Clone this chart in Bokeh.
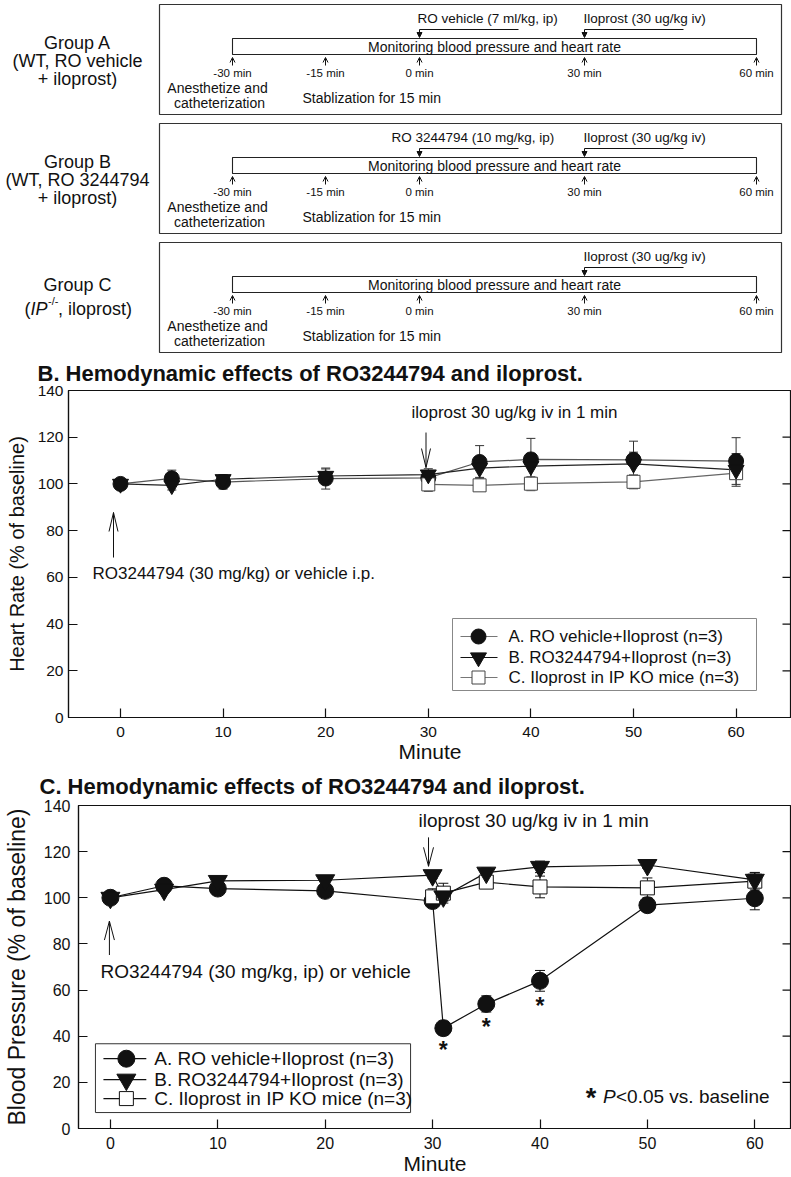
from bokeh.plotting import figure
from bokeh.models import (Range1d, FixedTicker, Arrow, OpenHead, NormalHead, ColumnDataSource)
from bokeh.core.properties import value
from bokeh.embed import file_html
from bokeh.resources import INLINE

FONT = "Liberation Sans"
INK = "#111111"

# ---------------- schematic content ----------------
group_names = ["Group A", "Group B", "Group C"]
group_details = [["(WT, RO vehicle", "+ iloprost)"], ["(WT, RO 3244794", "+ iloprost)"], []]
ko_label_parts = ["(", "IP", "-/-", ", iloprost)"]
pretreatment = ["RO vehicle (7 ml/kg, ip)", "RO 3244794 (10 mg/kg, ip)", ""]
iloprost_text = "Iloprost (30 ug/kg iv)"
timeline_labels = ["-30 min", "-15 min", "0 min", "30 min", "60 min"]
monitor_text = "Monitoring blood pressure and heart rate"
prep_text = ["Anesthetize and", "catheterization"]
stab_text = "Stablization for 15 min"

# ---------------- panel B: heart rate (% of baseline) ----------------
hr_time_ab = [0, 5, 10, 20, 30, 35, 40, 50, 60]
hr_A = [100, 102.4, 100.8, 102.3, 102.6, 109.4, 110.5, 110.3, 109.8]
hr_A_sem = [1.5, 3.5, 3.0, 4.5, 3.0, 7.0, 9.0, 8.0, 10.0]
hr_B = [100, 99.4, 102.0, 103.4, 104.0, 106.8, 107.6, 108.6, 106.0]
hr_B_sem = [1.5, 2.0, 2.0, 3.0, 2.5, 4.0, 5.5, 5.0, 7.0]
hr_time_c = [30, 35, 40, 50, 60]
hr_C = [99.8, 99.4, 100.1, 100.9, 104.6]
hr_C_sem = [3.0, 2.0, 3.0, 3.0, 2.0]

# ---------------- panel C: blood pressure (% of baseline) ----------------
bp_time_ab = [0, 5, 10, 20, 30, 31, 35, 40, 50, 60]
bp_A = [100, 105.2, 104.0, 103.0, 98.6, 43.5, 54.0, 64.0, 96.8, 99.8]
bp_A_sem = [1.5, 1.5, 1.5, 1.5, 2.0, 3.0, 3.5, 4.5, 2.0, 5.0]
bp_B = [100, 103.5, 107.3, 107.6, 109.8, 100.6, 110.9, 113.4, 114.2, 107.8]
bp_B_sem = [1.0, 1.5, 1.5, 1.5, 1.5, 2.0, 2.0, 2.5, 1.5, 3.0]
bp_time_c = [30, 31, 35, 40, 50, 60]
bp_C = [100.4, 102.0, 106.8, 104.7, 104.3, 107.2]
bp_C_sem = [3.5, 4.3, 2.0, 4.7, 4.3, 3.8]
sig_times = [31, 35, 40]

series_names = ["A. RO vehicle+Iloprost (n=3)", "B. RO3244794+Iloprost (n=3)",
                "C. Iloprost in IP KO mice (n=3)"]
x_ticks = [0, 10, 20, 30, 40, 50, 60]
y_ticks = [0, 20, 40, 60, 80, 100, 120, 140]

W = 791

# =====================================================================
# Schematic (drawn in its own pixel-like coordinate system)
# =====================================================================
sch = figure(width=W, height=354, x_range=Range1d(0, W), y_range=Range1d(354, 0),
             x_axis_type=None, y_axis_type=None, toolbar_location=None,
             output_backend="svg", min_border=0, outline_line_color=None)

box_l, box_r, box_h = 159, 781, 110
box_tops = [4, 123, 242]
tl_x = [232, 325, 419, 584, 756]
label_cx = 77
pre_x = [417, 391, None]
dose_arrow_x = [tl_x[2], tl_x[3]]
bracket_len = 99

sch.quad(left=[box_l] * 3, right=[box_r] * 3, top=box_tops,
         bottom=[t + box_h for t in box_tops], fill_color=None, line_color="#333333",
         line_width=1.2)
sch.quad(left=[tl_x[0]] * 3, right=[tl_x[-1]] * 3, top=[t + 34 for t in box_tops],
         bottom=[t + 50 for t in box_tops], fill_color=None, line_color="#222222",
         line_width=1.1)

ax, ay0, ay1 = [], [], []
for t in box_tops:
    for x in tl_x:
        ax.append(x); ay0.append(t + 61); ay1.append(t + 53)
sch.add_layout(Arrow(end=OpenHead(size=5, line_width=1, line_color=INK),
                     source=ColumnDataSource(dict(x=ax, y0=ay0, y1=ay1)),
                     x_start="x", y_start="y0", x_end="x", y_end="y1",
                     line_width=1, line_color=INK))

bx, by0, by1, sx0, sx1, sy = [], [], [], [], [], []
for gi, t in enumerate(box_tops):
    xs = [dose_arrow_x[1]] if not pretreatment[gi] else dose_arrow_x
    for x in xs:
        bx.append(x); by0.append(t + 25); by1.append(t + 33)
        sx0.append(x); sx1.append(x + bracket_len); sy.append(t + 25)
sch.segment(x0=sx0, y0=sy, x1=sx1, y1=sy, line_color=INK, line_width=1)
sch.add_layout(Arrow(end=NormalHead(size=5, line_width=1, line_color=INK, fill_color=INK),
                     source=ColumnDataSource(dict(x=bx, y0=by0, y1=by1)),
                     x_start="x", y_start="y0", x_end="x", y_end="y1",
                     line_width=1, line_color=INK))


def stext(fig, xs, ys, txt, size, align="center", style="normal", baseline="middle"):
    fig.text(x=xs, y=ys, text=txt, text_font=value(FONT), text_font_size=size,
             text_font_style=style, text_align=align, text_baseline=baseline,
             text_color=INK)


tx, ty, tt = [], [], []
for t in box_tops:
    for x, lab in zip(tl_x, timeline_labels):
        tx.append(x); ty.append(t + 68); tt.append(lab)
stext(sch, tx, ty, tt, "11.5px")

stext(sch, [(tl_x[0] + tl_x[-1]) / 2] * 3, [t + 42.5 for t in box_tops], [monitor_text] * 3, "14px")
stext(sch, [217] * 3 + [219] * 3, [t + 83 for t in box_tops] + [t + 98 for t in box_tops],
      [prep_text[0]] * 3 + [prep_text[1]] * 3, "14px")
stext(sch, [302] * 3, [t + 93 for t in box_tops], [stab_text] * 3, "14px", align="left")

dx, dy, dt = [], [], []
for gi, t in enumerate(box_tops):
    if pretreatment[gi]:
        dx.append(pre_x[gi]); dy.append(t + 14); dt.append(pretreatment[gi])
    dx.append(583); dy.append(t + 14); dt.append(iloprost_text)
stext(sch, dx, dy, dt, "13.5px", align="left")

gx, gy, gt = [], [], []
for gi, t in enumerate(box_tops):
    gx.append(label_cx); gy.append(t + 38 if group_details[gi] else t + 42); gt.append(group_names[gi])
    for li, line in enumerate(group_details[gi]):
        gx.append(label_cx); gy.append(t + 56 + 18 * li); gt.append(line)
stext(sch, gx, gy, gt, "18px")
tC = box_tops[2]
ko_x = [24, 30, 47.5, 57.5]
stext(sch, [ko_x[0]], [tC + 66], [ko_label_parts[0]], "18px", align="left", baseline="alphabetic")
stext(sch, [ko_x[1]], [tC + 66], [ko_label_parts[1]], "18px", align="left", style="italic", baseline="alphabetic")
stext(sch, [ko_x[2]], [tC + 58], [ko_label_parts[2]], "11px", align="left", baseline="alphabetic")
stext(sch, [ko_x[3]], [tC + 66], [ko_label_parts[3]], "18px", align="left", baseline="alphabetic")


# =====================================================================
# Data panels
# =====================================================================
def make_panel(height, left, top, bottom, xr, tick_size, ylabel, ylabel_size,
               y_std, y_lab_std, x_std, x_lab_std, title, title_offset, title_standoff):
    p = figure(width=W, height=height, x_range=Range1d(*xr), y_range=Range1d(0, 140),
               toolbar_location=None, output_backend="svg",
               min_border_left=left, min_border_right=0, min_border_top=top,
               min_border_bottom=bottom, outline_line_color=INK, outline_line_width=1.2,
               background_fill_color="white", border_fill_color="white")
    p.grid.visible = False
    xa, ya = p.below[0], p.left[0]
    xa.ticker = FixedTicker(ticks=x_ticks)
    ya.ticker = FixedTicker(ticks=y_ticks)
    for a in [xa, ya]:
        a.major_tick_in = 9
        a.major_tick_out = 0
        a.minor_tick_in = 0
        a.minor_tick_out = 0
        a.major_tick_line_color = INK
        a.major_tick_line_width = 1.2
        a.major_label_text_font = FONT
        a.major_label_text_color = INK
        a.major_label_text_font_size = tick_size
        a.axis_label_text_font = FONT
        a.axis_label_text_font_style = "normal"
        a.axis_label_text_color = INK
        a.axis_line_color = INK
        a.axis_line_width = 1.2
    ya.axis_label = ylabel
    ya.axis_label_text_font_size = ylabel_size
    ya.major_label_standoff = y_std
    ya.axis_label_standoff = y_lab_std
    xa.axis_label = "Minute"
    xa.axis_label_text_font_size = "21px"
    xa.major_label_standoff = x_std
    xa.axis_label_standoff = x_lab_std
    p.title.text = title
    p.title.text_font = FONT
    p.title.text_font_size = "22px"
    p.title.text_font_style = "bold"
    p.title.text_color = INK
    p.title.align = "left"
    p.title.vertical_align = "middle"
    p.title.offset = title_offset
    p.title.standoff = title_standoff
    return p


def right_ticks(p, x_edge, sx, tick_px=9):
    # inward tick marks on the right-hand frame edge
    p.segment(x0=[x_edge - tick_px / sx] * len(y_ticks), y0=y_ticks,
              x1=[x_edge] * len(y_ticks), y1=y_ticks, line_color=INK, line_width=1.2)


def draw_series(p, series, cap_px):
    for s in series:
        p.line(s["t"], s["v"], line_color=s["line"], line_width=1.2)
    for s in series:
        lo = [v - e for v, e in zip(s["v"], s["sem"])]
        hi = [v + e for v, e in zip(s["v"], s["sem"])]
        p.segment(x0=s["t"], y0=lo, x1=s["t"], y1=hi, line_color=s["err"], line_width=1)
        p.scatter(x=s["t"] + s["t"], y=lo + hi, marker="dash", size=cap_px,
                  line_color=s["err"], line_width=1)
    for s in [series[0], series[2], series[1]]:
        p.scatter(s["t"], s["v"], marker=s["marker"], size=s["size"],
                  fill_color=s["fill"], line_color=s["mline"], line_width=1)


def draw_legend(p, series, box, rows, line_x, mark_x, text_x, font_size, border):
    p.quad(left=[box[0]], right=[box[1]], top=[box[2]], bottom=[box[3]],
           fill_color="white", line_color=border, line_width=1)
    for s, ry in zip(series, rows):
        p.segment(x0=[line_x[0]], y0=[ry], x1=[line_x[1]], y1=[ry],
                  line_color=s["legline"], line_width=1.2)
        p.scatter([mark_x], [ry], marker=s["marker"], size=s["size"],
                  fill_color=s["fill"], line_color=s["mline"], line_width=1)
    p.text(x=[text_x] * len(rows), y=rows, text=series_names, text_font=value(FONT),
           text_font_size=font_size, text_align="left", text_baseline="middle",
           text_color=INK)


def vee_arrow(p, x, y_tail, y_tip, sx, sy, head_len, head_hw):
    d = 1 if y_tail > y_tip else -1
    p.segment(x0=[x, x, x], y0=[y_tail, y_tip, y_tip],
              x1=[x, x - head_hw / sx, x + head_hw / sx],
              y1=[y_tip, y_tip + d * head_len / sy, y_tip + d * head_len / sy],
              line_color=INK, line_width=1)


def ptext(p, x, y, txt, size, style="normal", align="left", baseline="middle", yoff=0):
    p.text(x=[x], y=[y], text=[txt], text_font=value(FONT), text_font_size=size,
           text_font_style=style, text_align=align, text_baseline=baseline,
           y_offset=yoff, text_color=INK)


# ---------------- Panel B ----------------
bx_ = lambda px: (px - 120) / 10.26          # reference pixel -> minute
by_ = lambda py: (717 - py) / 2.336          # reference pixel -> % of baseline
sxB, syB = 10.26, 327 / 140
pB = make_panel(412, 68, 36, 49, (bx_(68), bx_(W)), "15.5px", "Heart Rate (% of baseline)",
                "20px", 5, 7, 9, 0, "B. Hemodynamic effects of RO3244794 and iloprost.",
                -31, 7)
right_ticks(pB, bx_(W), sxB)

seriesB = [
    dict(t=hr_time_ab, v=hr_A, sem=hr_A_sem, marker="circle", size=15, fill=INK, mline=INK,
         line="#555555", err="#333333", legline="#777777"),
    dict(t=hr_time_ab, v=hr_B, sem=hr_B_sem, marker="inverted_triangle", size=16, fill=INK,
         mline=INK, line="#222222", err="#333333", legline="#111111"),
    dict(t=hr_time_c, v=hr_C, sem=hr_C_sem, marker="square", size=13, fill="white",
         mline="#444444", line="#666666", err="#555555", legline="#777777"),
]
draw_series(pB, seriesB, 9)
ptext(pB, bx_(411), by_(412), "iloprost 30 ug/kg iv in 1 min", "17px")
vee_arrow(pB, bx_(425.5), by_(432), by_(467), sxB, syB, 19, 4.5)
ptext(pB, bx_(92), by_(573), "RO3244794 (30 mg/kg) or vehicle i.p.", "17px")
vee_arrow(pB, bx_(113), by_(557), by_(512), sxB, syB, 19, 4.5)
draw_legend(pB, seriesB, (bx_(452), bx_(756), by_(618), by_(690)),
            [by_(636), by_(657), by_(677)], (bx_(460), bx_(497)), bx_(478), bx_(508),
            "17px", "#888888")

# ---------------- Panel C ----------------
cx_ = lambda px: (px - 108) / 10.77
cy_ = lambda py: (1129 - py) / 2.314
sxC, syC = 10.77, 324 / 140
pC = make_panel(411, 76, 39, 48, (cx_(76), cx_(W)), "16px", "Blood Pressure (% of baseline)",
                "23px", 8, 11, 8, 0, "C. Hemodynamic effects of RO3244794 and iloprost.",
                -39, 12)
right_ticks(pC, cx_(W), sxC)

seriesC = [
    dict(t=bp_time_ab, v=bp_A, sem=bp_A_sem, marker="circle", size=17, fill=INK, mline=INK,
         line=INK, err=INK, legline=INK),
    dict(t=bp_time_ab, v=bp_B, sem=bp_B_sem, marker="inverted_triangle", size=19, fill=INK,
         mline=INK, line=INK, err=INK, legline=INK),
    dict(t=bp_time_c, v=bp_C, sem=bp_C_sem, marker="square", size=14, fill="white",
         mline=INK, line=INK, err=INK, legline=INK),
]
draw_series(pC, seriesC, 10)

star_gap = 4.8
idx = [bp_time_ab.index(t) for t in sig_times]
star_y = [bp_A[i] - bp_A_sem[i] - star_gap for i in idx]
pC.text(x=sig_times, y=star_y, text=["*"] * len(sig_times), text_font=value(FONT),
        text_font_size="23px", text_font_style="bold", text_align="center",
        text_baseline="alphabetic", y_offset=4, text_color=INK)

ptext(pC, cx_(417), cy_(820), "iloprost 30 ug/kg iv in 1 min", "19px")
vee_arrow(pC, cx_(427), cy_(837), cy_(866), sxC, syC, 19, 5)
ptext(pC, cx_(98), cy_(972), "RO3244794 (30 mg/kg, ip) or vehicle", "19px")
vee_arrow(pC, cx_(107), cy_(955), cy_(921), sxC, syC, 19, 5)
draw_legend(pC, seriesC, (cx_(93), cx_(409), cy_(1044), cy_(1113)),
            [cy_(1059), cy_(1080), cy_(1099)], (cx_(101), cx_(144)), cx_(124), cx_(152),
            "19px", "#333333")
ptext(pC, cx_(590), cy_(1092), "*", "27px", style="bold", align="center",
      baseline="alphabetic", yoff=6)
ptext(pC, cx_(602), cy_(1097), "P", "19px", style="italic")
ptext(pC, cx_(615), cy_(1097), "<0.05 vs. baseline", "19px")

open("out.html", "w").write(file_html([sch, pB, pC], INLINE))
